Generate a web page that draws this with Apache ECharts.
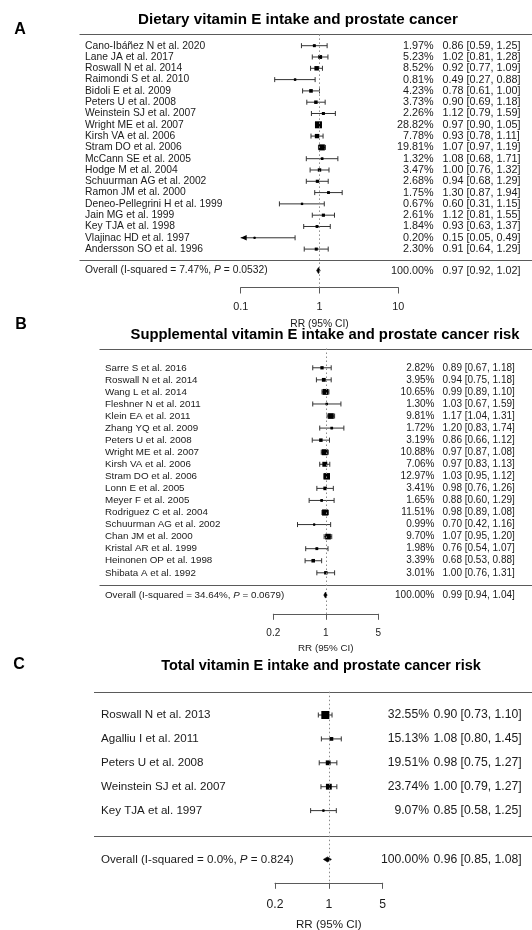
<!DOCTYPE html>
<html>
<head>
<meta charset="utf-8">
<script src="https://cdn.jsdelivr.net/npm/echarts@6/dist/echarts.min.js"></script>
<style>
  html, body { margin: 0; padding: 0; background: #fff; }
  #chart { width: 532px; height: 930px; }
</style>
</head>
<body>
<div id="chart"></div>
<script>
// ---- A: dietary vitamin E intake ----
const dietaryStudies = [
  'Cano-Ibáñez N et al. 2020', 'Lane JA et al. 2017', 'Roswall N et al. 2014', 'Raimondi S et al. 2010',
  'Bidoli E et al. 2009', 'Peters U et al. 2008', 'Weinstein SJ et al. 2007', 'Wright ME et al. 2007',
  'Kirsh VA et al. 2006', 'Stram DO et al. 2006', 'McCann SE et al. 2005', 'Hodge M et al. 2004',
  'Schuurman AG et al. 2002', 'Ramon JM et al. 2000', 'Deneo-Pellegrini H et al. 1999', 'Jain MG et al. 1999',
  'Key TJA et al. 1998', 'Vlajinac HD et al. 1997', 'Andersson SO et al. 1996'
];
const dietaryRR    = [0.86, 1.02, 0.92, 0.49, 0.78, 0.90, 1.12, 0.97, 0.93, 1.07, 1.08, 1.00, 0.94, 1.30, 0.60, 1.12, 0.93, 0.15, 0.91];
const dietaryLower = [0.59, 0.81, 0.77, 0.27, 0.61, 0.69, 0.79, 0.90, 0.78, 0.97, 0.68, 0.76, 0.68, 0.87, 0.31, 0.81, 0.63, 0.05, 0.64];
const dietaryUpper = [1.25, 1.28, 1.09, 0.88, 1.00, 1.18, 1.59, 1.05, 1.11, 1.19, 1.71, 1.32, 1.29, 1.94, 1.15, 1.55, 1.37, 0.49, 1.29];
const dietaryWeight = [1.97, 5.23, 8.52, 0.81, 4.23, 3.73, 2.26, 28.82, 7.78, 19.81, 1.32, 3.47, 2.68, 1.75, 0.67, 2.61, 1.84, 0.20, 2.30];
const dietaryOverall = [0.97, 0.92, 1.02];
const dietaryHeterogeneity = ['7.47%', '0.0532'];
const dietaryTicks = [0.1, 1, 10];

// ---- B: supplemental vitamin E intake ----
const supplementStudies = [
  'Sarre S et al. 2016', 'Roswall N et al. 2014', 'Wang L et al. 2014', 'Fleshner N et al. 2011',
  'Klein EA et al. 2011', 'Zhang YQ et al. 2009', 'Peters U et al. 2008', 'Wright ME et al. 2007',
  'Kirsh VA et al. 2006', 'Stram DO et al. 2006', 'Lonn E et al. 2005', 'Meyer F et al. 2005',
  'Rodriguez C et al. 2004', 'Schuurman AG et al. 2002', 'Chan JM et al. 2000', 'Kristal AR et al. 1999',
  'Heinonen OP et al. 1998', 'Shibata A et al. 1992'
];
const supplementRR    = [0.89, 0.94, 0.99, 1.03, 1.17, 1.20, 0.86, 0.97, 0.97, 1.03, 0.98, 0.88, 0.98, 0.70, 1.07, 0.76, 0.68, 1.00];
const supplementLower = [0.67, 0.75, 0.89, 0.67, 1.04, 0.83, 0.66, 0.87, 0.83, 0.95, 0.76, 0.60, 0.89, 0.42, 0.95, 0.54, 0.53, 0.76];
const supplementUpper = [1.18, 1.18, 1.10, 1.59, 1.31, 1.74, 1.12, 1.08, 1.13, 1.12, 1.26, 1.29, 1.08, 1.16, 1.20, 1.07, 0.88, 1.31];
const supplementWeight = [2.82, 3.95, 10.65, 1.30, 9.81, 1.72, 3.19, 10.88, 7.06, 12.97, 3.41, 1.65, 11.51, 0.99, 9.70, 1.98, 3.39, 3.01];
const supplementOverall = [0.99, 0.94, 1.04];
const supplementHeterogeneity = ['34.64%', '0.0679'];
const supplementTicks = [0.2, 1, 5];

// ---- C: total vitamin E intake ----
const totalStudies = ['Roswall N et al. 2013', 'Agalliu I et al. 2011', 'Peters U et al. 2008', 'Weinstein SJ et al. 2007', 'Key TJA et al. 1997'];
const totalRR    = [0.90, 1.08, 0.98, 1.00, 0.85];
const totalLower = [0.73, 0.80, 0.75, 0.79, 0.58];
const totalUpper = [1.10, 1.45, 1.27, 1.27, 1.25];
const totalWeight = [32.55, 15.13, 19.51, 23.74, 9.07];
const totalOverall = [0.96, 0.85, 1.08];
const totalHeterogeneity = ['0.0%', '0.824'];
const totalTicks = [0.2, 1, 5];

const FONT = '"Liberation Sans", Arial, Helvetica, sans-serif';
const TEXT = '#1a1a1a';
const RULE = '#5a5a5a';

// Panel definitions: data plus page layout for each forest plot
const panels = [
  {
    letter: 'A', title: 'Dietary vitamin E intake and prostate cancer',
    letterPos: [20, 30], titlePos: [298, 20], titleSize: 15.2,
    studies: dietaryStudies, rr: dietaryRR, lo: dietaryLower, hi: dietaryUpper, w: dietaryWeight,
    overall: dietaryOverall, het: dietaryHeterogeneity, ticks: dietaryTicks, logBase: 10,
    grid: { left: 240.7, width: 157.6, top: 34.4, height: 253.1 },
    yMin: -1, yMax: 21.4, ruleLeft: 79.5, ruleRow: 19, overallRow: 19.9,
    labelX: 85, weightX: 433.5, ciX: 442.5, fontSize: 10.3, ciFontSize: 10.8,
    box: { base: 1.5, scale: 5.5, exp: 0.5 }, diamondH: 3,
    labelMargin: 14, nameGap: 31.5
  },
  {
    letter: 'B', title: 'Supplemental vitamin E intake and prostate cancer risk',
    letterPos: [21, 325], titlePos: [325, 335], titleSize: 14.8,
    studies: supplementStudies, rr: supplementRR, lo: supplementLower, hi: supplementUpper, w: supplementWeight,
    overall: supplementOverall, het: supplementHeterogeneity, ticks: supplementTicks, logBase: 5,
    grid: { left: 273.3, width: 105, top: 348.5, height: 265.3 },
    yMin: -1.6, yMax: 20.4, ruleLeft: 99.5, ruleRow: 18, overallRow: 18.85,
    labelX: 105, weightX: 434.5, ciX: 442.5, fontSize: 9.8, ciFontSize: 10,
    box: { base: 0.5, scale: 6, exp: 0.5 }, diamondH: 3,
    labelMargin: 14.5, nameGap: 29.5
  },
  {
    letter: 'C', title: 'Total vitamin E intake and prostate cancer risk',
    letterPos: [19, 665], titlePos: [321, 666], titleSize: 14.5,
    studies: totalStudies, rr: totalRR, lo: totalLower, hi: totalUpper, w: totalWeight,
    overall: totalOverall, het: totalHeterogeneity, ticks: totalTicks, logBase: 5,
    grid: { left: 275, width: 107.7, top: 691.7, height: 191.1 },
    yMin: -0.975, yMax: 7.02, ruleLeft: 94, ruleRow: 5.05, overallRow: 6.04,
    labelX: 101, weightX: 429, ciX: 433.5, fontSize: 11.6, ciFontSize: 12.2,
    box: { base: 0, scale: 8, exp: 1 }, diamondH: 2.5,
    labelMargin: 15.5, nameGap: 35.5
  }
];

const fmt = v => v.toFixed(2);
const ciText = (r, l, h) => fmt(r) + ' [' + fmt(l) + ', ' + fmt(h) + ']';

function textEl(text, x, y, align, size, extra) {
  return {
    type: 'text',
    style: Object.assign({
      text, x, y, align, verticalAlign: 'middle',
      fill: TEXT, fontSize: size, fontFamily: FONT
    }, extra || {})
  };
}

const grids = [], xAxes = [], yAxes = [], series = [], graphics = [];

panels.forEach((p, k) => {
  const xMin = p.ticks[0], xMax = p.ticks[p.ticks.length - 1];
  const wMax = Math.max(...p.w);

  grids.push(Object.assign({ containLabel: false, outerBoundsMode: 'none' }, p.grid));

  xAxes.push({
    type: 'log', logBase: p.logBase, gridIndex: k, min: xMin, max: xMax, position: 'bottom',
    name: 'RR (95% CI)', nameLocation: 'middle', nameGap: p.nameGap,
    nameTextStyle: { color: TEXT, fontSize: p.fontSize, fontFamily: FONT },
    axisLine: { show: true, onZero: false, lineStyle: { color: RULE, width: 1 } },
    axisTick: { show: true, length: 6, inside: false, lineStyle: { color: RULE, width: 1 } },
    minorTick: { show: false },
    axisLabel: {
      margin: p.labelMargin, color: TEXT, fontSize: p.ciFontSize, fontFamily: FONT,
      formatter: v => String(+Number(v).toPrecision(6))
    },
    splitLine: { show: false }
  });

  yAxes.push({
    type: 'value', gridIndex: k, inverse: true, min: p.yMin, max: p.yMax, show: false
  });

  // Individual studies: CI whisker, caps, weighted box and text columns
  const studyRows = p.rr.map((v, i) => [v, p.lo[i], p.hi[i], p.w[i], i]);
  series.push({
    type: 'custom', xAxisIndex: k, yAxisIndex: k, clip: false, silent: true,
    encode: { x: [0, 1, 2], y: 4 },
    data: studyRows,
    renderItem: (params, api) => {
      const rr = api.value(0), lo = api.value(1), hi = api.value(2), w = api.value(3), row = api.value(4);
      const y = api.coord([1, row])[1];
      const xl = api.coord([Math.max(lo, xMin), row])[0];
      const xh = api.coord([Math.min(hi, xMax), row])[0];
      const xc = api.coord([rr, row])[0];
      const size = p.box.base + p.box.scale * Math.pow(w / wMax, p.box.exp);
      const stroke = { stroke: '#333', lineWidth: 1 };
      const kids = [
        { type: 'line', shape: { x1: xl, y1: y, x2: xh, y2: y }, style: stroke }
      ];
      if (lo >= xMin) {
        kids.push({ type: 'line', shape: { x1: xl, y1: y - 2.5, x2: xl, y2: y + 2.5 }, style: stroke });
      } else {
        kids.push({ type: 'polygon', shape: { points: [[xl, y], [xl + 6, y - 2.8], [xl + 6, y + 2.8]] }, style: { fill: '#000' } });
      }
      if (hi <= xMax) {
        kids.push({ type: 'line', shape: { x1: xh, y1: y - 2.5, x2: xh, y2: y + 2.5 }, style: stroke });
      }
      kids.push({ type: 'rect', shape: { x: xc - size / 2, y: y - size / 2, width: size, height: size }, style: { fill: '#000' } });
      kids.push({ type: 'circle', shape: { cx: xc, cy: y, r: 1.1 }, style: { fill: '#000' } });
      const i = params.dataIndex;
      kids.push(textEl(p.studies[i], p.labelX, y, 'left', p.fontSize));
      kids.push(textEl(fmt(w) + '%', p.weightX, y, 'right', p.ciFontSize));
      kids.push(textEl(ciText(rr, lo, hi), p.ciX, y, 'left', p.ciFontSize));
      return { type: 'group', children: kids };
    },
    markLine: {
      silent: true, symbol: 'none', animation: false,
      label: { show: false },
      lineStyle: { type: [1.5, 2.5], color: '#8a8a8a', width: 1 },
      data: [{ xAxis: 1 }]
    },
    z: 3
  });

  // Pooled estimate: diamond plus the heterogeneity line
  series.push({
    type: 'custom', xAxisIndex: k, yAxisIndex: k, clip: false, silent: true,
    encode: { x: [0, 1, 2], y: 3 },
    data: [[p.overall[0], p.overall[1], p.overall[2], p.overallRow]],
    renderItem: (params, api) => {
      const rr = api.value(0), lo = api.value(1), hi = api.value(2), row = api.value(3);
      const y = api.coord([1, row])[1];
      const xl = api.coord([lo, row])[0], xh = api.coord([hi, row])[0], xc = api.coord([rr, row])[0];
      const h = p.diamondH;
      return {
        type: 'group',
        children: [
          { type: 'polygon', shape: { points: [[xl, y], [xc, y - h], [xh, y], [xc, y + h]] }, style: { fill: '#000', stroke: '#000', lineWidth: 0.6 } },
          textEl('Overall (I-squared = ' + p.het[0] + ', {i|P} = ' + p.het[1] + ')', p.labelX, y, 'left', p.fontSize, {
            rich: { i: { fontStyle: 'italic', fontSize: p.fontSize, fontFamily: FONT, fill: TEXT } }
          }),
          textEl('100.00%', p.weightX, y, 'right', p.ciFontSize),
          textEl(ciText(rr, lo, hi), p.ciX, y, 'left', p.ciFontSize)
        ]
      };
    },
    z: 4
  });

  // Horizontal rules above the studies and above the pooled row
  series.push({
    type: 'custom', xAxisIndex: k, yAxisIndex: k, clip: false, silent: true,
    encode: { x: 0, y: 1 },
    data: [[1, p.yMin], [1, p.ruleRow]],
    renderItem: (params, api) => {
      const y = Math.round(api.coord([1, api.value(1)])[1]) + 0.5;
      return { type: 'line', shape: { x1: p.ruleLeft, y1: y, x2: 532, y2: y }, style: { stroke: RULE, lineWidth: 1 } };
    },
    z: 2
  });

  graphics.push({
    type: 'text', x: p.letterPos[0], y: p.letterPos[1],
    style: { text: p.letter, align: 'center', verticalAlign: 'middle', fill: '#000', fontSize: 16, fontWeight: 'bold', fontFamily: FONT }
  });
  graphics.push({
    type: 'text', x: p.titlePos[0], y: p.titlePos[1],
    style: { text: p.title, align: 'center', verticalAlign: 'middle', fill: '#000', fontSize: p.titleSize, fontWeight: 'bold', fontFamily: FONT }
  });
});

const chart = echarts.init(document.getElementById('chart'), null, { renderer: 'canvas' });
chart.setOption({
  animation: false,
  backgroundColor: '#fff',
  grid: grids,
  xAxis: xAxes,
  yAxis: yAxes,
  series: series,
  graphic: graphics
});
</script>
</body>
</html>
